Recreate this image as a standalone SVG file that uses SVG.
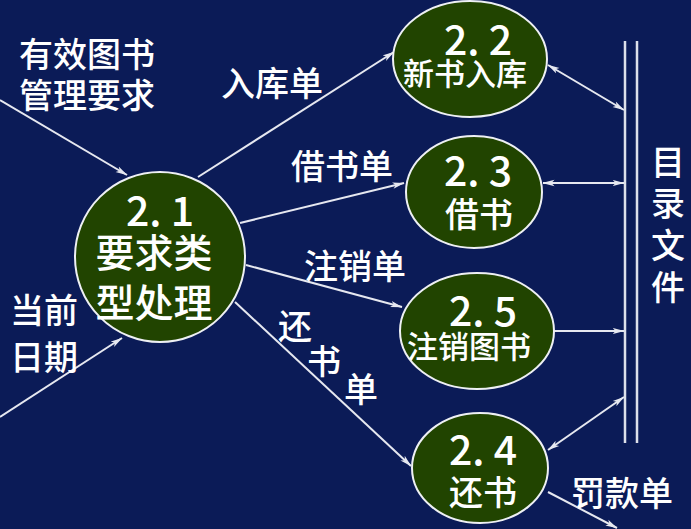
<svg xmlns="http://www.w3.org/2000/svg" width="691" height="529" viewBox="0 0 691 529">
<defs>
<marker id="ah" viewBox="0 0 12 8" refX="11.5" refY="4" markerWidth="12" markerHeight="8" markerUnits="userSpaceOnUse" orient="auto-start-reverse">
<path d="M0,0.8 L12,4 L0,7.2 L3,4 Z" fill="#e6e8f0"/>
</marker>
<style>
.bg{fill:#0b1b57}
.node{fill:#214400;stroke:#eef0f4;stroke-width:2}
.t{font-family:"Noto Sans CJK SC","Noto Sans",sans-serif;fill:#ffffff;text-anchor:middle;dominant-baseline:central;font-weight:500}
.num{font-size:41px}
.c{stroke:#e6e8f0;stroke-width:2;fill:none}
.a{marker-end:url(#ah)}
.b{marker-start:url(#ah);marker-end:url(#ah)}
</style>
</defs>
<rect class="bg" x="0" y="0" width="691" height="529"/>
<g id="connectors">
<line class="c a" x1="0" y1="100" x2="127" y2="175"/>
<line class="c a" x1="0" y1="417" x2="122" y2="338"/>
<line class="c a" x1="198" y1="177" x2="394" y2="52"/>
<line class="c a" x1="240" y1="223" x2="404" y2="183"/>
<line class="c a" x1="246" y1="265" x2="402" y2="307"/>
<line class="c a" x1="235" y1="302" x2="411" y2="466"/>
<line class="c b" x1="548" y1="65" x2="624" y2="110"/>
<line class="c b" x1="543" y1="183" x2="624" y2="183"/>
<line class="c a" x1="553" y1="331" x2="624" y2="331"/>
<line class="c b" x1="548" y1="450" x2="624" y2="397"/>
<line class="c a" x1="548" y1="492" x2="617" y2="528"/>
</g>
<g id="store">
<line x1="625" y1="41" x2="625" y2="443" stroke="#dde0ea" stroke-width="2.5"/>
<line x1="637" y1="41" x2="637" y2="443" stroke="#dde0ea" stroke-width="2.5"/>
<text class="t" x="668" y="160" font-size="34">目</text>
<text class="t" x="668" y="201" font-size="34">录</text>
<text class="t" x="668" y="243" font-size="34">文</text>
<text class="t" x="668" y="285" font-size="34">件</text>
</g>
<g id="labels">
<text class="t" x="87" y="52" font-size="34">有效图书</text>
<text class="t" x="87" y="93" font-size="34">管理要求</text>
<text class="t" x="44" y="308" font-size="34">当前</text>
<text class="t" x="44" y="355" font-size="34">日期</text>
<text class="t" x="272" y="81" font-size="34">入库单</text>
<text class="t" x="342" y="164" font-size="34">借书单</text>
<text class="t" x="355" y="264" font-size="34">注销单</text>
<text class="t" x="295" y="324" font-size="34">还</text>
<text class="t" x="324" y="359" font-size="34">书</text>
<text class="t" x="361" y="387" font-size="34">单</text>
<text class="t" x="622" y="491" font-size="34">罚款单</text>
</g>
<g id="n21">
<circle class="node" cx="160" cy="257" r="85"/>
<text class="t num" x="160" y="208">2. 1</text>
<text class="t" x="154" y="250" font-size="39">要求类</text>
<text class="t" x="154" y="300" font-size="39">型处理</text>
</g>
<g id="n22">
<ellipse class="node" cx="470" cy="59" rx="77" ry="58"/>
<text class="t num" x="478" y="37">2. 2</text>
<text class="t" x="465" y="71" font-size="31">新书入库</text>
</g>
<g id="n23">
<ellipse class="node" cx="474" cy="192" rx="68" ry="56"/>
<text class="t num" x="478" y="168">2. 3</text>
<text class="t" x="479" y="212" font-size="34">借书</text>
</g>
<g id="n25">
<ellipse class="node" cx="477" cy="331" rx="77" ry="58"/>
<text class="t num" x="483" y="308">2. 5</text>
<text class="t" x="469" y="344" font-size="31">注销图书</text>
</g>
<g id="n24">
<ellipse class="node" cx="480" cy="468" rx="68" ry="55"/>
<text class="t num" x="483" y="447">2. 4</text>
<text class="t" x="483" y="490" font-size="34">还书</text>
</g>
</svg>
